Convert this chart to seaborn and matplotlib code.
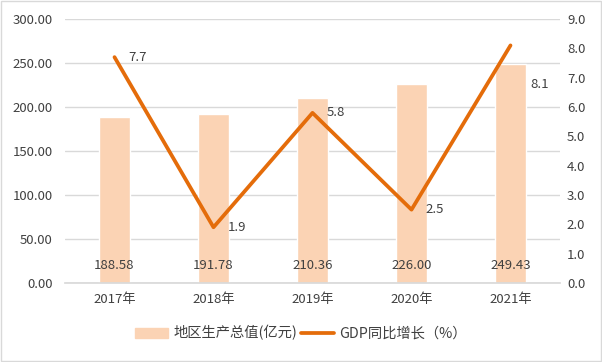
import matplotlib
matplotlib.use("Agg")
import matplotlib.pyplot as plt
import seaborn as sns
import pandas as pd
from matplotlib.patches import Patch, Rectangle
from matplotlib.lines import Line2D
from matplotlib.ticker import FormatStrFormatter, MultipleLocator

years = ["2017年", "2018年", "2019年", "2020年", "2021年"]
gdp = [188.58, 191.78, 210.36, 226.00, 249.43]
growth = [7.7, 1.9, 5.8, 2.5, 8.1]
bar_name = "地区生产总值(亿元)"
line_name = "GDP同比增长（%）"

sns.set_theme(style="white")
plt.rcParams['font.family'] = ['Noto Sans CJK SC', 'DejaVu Sans']
txt = "#404040"
bar_c = "#FBD3B4"
line_c = "#E46C0A"
fs = 9.5

df = pd.DataFrame({"year": years, "gdp": gdp, "growth": growth})

fig = plt.figure(figsize=(6.02, 3.62), dpi=100)
ax = fig.add_axes([65/602, 1-283/362, 495/602, 264/362])
sns.barplot(data=df, x="year", y="gdp", color=bar_c, width=0.31, ax=ax,
            saturation=1, zorder=2)
ax.set_ylim(0, 300)
ax.yaxis.set_major_locator(MultipleLocator(50))
ax.yaxis.set_major_formatter(FormatStrFormatter("%.2f"))
ax.set_xlim(-0.5, 4.5)
ax.grid(axis="y", color="#D9D9D9", lw=1, zorder=0)
ax.set_axisbelow(True)
for s in ["top", "right", "left"]:
    ax.spines[s].set_visible(False)
ax.spines["bottom"].set_color("#D9D9D9")
ax.set_xlabel("")
ax.set_ylabel("")
ax.tick_params(axis="both", length=0, labelsize=fs, colors=txt, pad=7)
ax.tick_params(axis="y", pad=9)

for i, v in enumerate(gdp):
    ax.text(i, 20, f"{v:.2f}", ha="center", va="center", fontsize=fs, color=txt, zorder=5)

ax2 = ax.twinx()
sns.lineplot(data=df, x="year", y="growth", color=line_c, lw=2.7, ax=ax2, zorder=4,
             solid_capstyle="round")
ax2.set_ylim(0, 9)
ax2.yaxis.set_major_locator(MultipleLocator(1))
ax2.yaxis.set_major_formatter(FormatStrFormatter("%.1f"))
ax2.set_xlim(-0.5, 4.5)
for s in ["top", "right", "left", "bottom"]:
    ax2.spines[s].set_visible(False)
ax2.set_xlabel("")
ax2.set_ylabel("")
ax2.tick_params(axis="y", length=0, labelsize=fs, colors=txt, pad=5)
label_dx = [10, 10, 10, 10, 14]
label_dy = [0, 0, 0, 0, -28]
for i, v in enumerate(growth):
    ax2.annotate(f"{v:.1f}", (i, v), xytext=(label_dx[i], label_dy[i]), textcoords="offset points",
                 ha="left", va="center", fontsize=fs, color=txt)

handles = [Patch(color=bar_c), Line2D([0], [0], color=line_c, lw=2.7)]
fig.legend(handles, [bar_name, line_name], loc="center", bbox_to_anchor=(0.5, 1-333/362),
           ncol=2, frameon=False, fontsize=10.3, labelcolor=txt, handlelength=2.3,
           columnspacing=0.2, handletextpad=0.4)

fig.patches.append(Rectangle((0.002, 0.003), 0.996, 0.994, transform=fig.transFigure,
                             fill=False, edgecolor="#D9D9D9", lw=1))
fig.savefig("out.png", dpi=100)
